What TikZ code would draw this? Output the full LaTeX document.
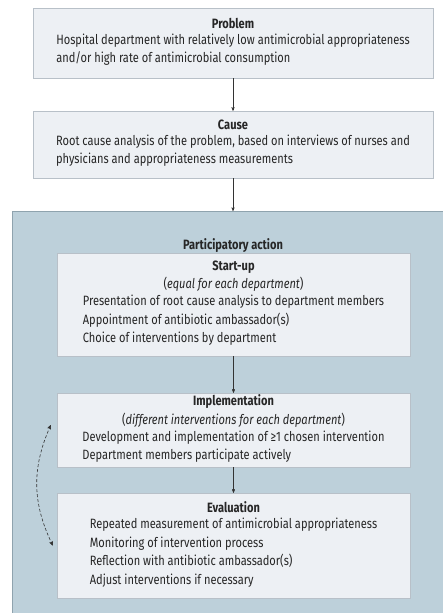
\documentclass[tikz,border=0pt]{standalone}
\usepackage{fontspec}
\setmainfont[FakeStretch=0.82]{Fira Sans}
\usetikzlibrary{arrows,positioning}

\definecolor{actionblue}{HTML}{BDD0DA}
\definecolor{actionedge}{HTML}{8FA3AE}
\definecolor{boxgrey}{HTML}{EDF0F4}
\definecolor{edgegrey}{HTML}{B8C0C8}
\definecolor{arrowgrey}{HTML}{333333}

\begin{document}
\begin{tikzpicture}
    [x=1pt,y=-1pt,
     stage/.style={rectangle,draw=edgegrey,fill=boxgrey,inner sep=0pt,
       align=center,font=\fontsize{13.5}{18.5}\selectfont,text=black!85},
     panel/.style={rectangle,draw=actionedge,fill=actionblue,inner sep=0pt},
     flow/.style={->,>=stealth',thin,draw=arrowgrey},
     loopback/.style={<->,>=stealth',densely dashed,semithick,draw=arrowgrey}]
    \useasboundingbox (0,0) rectangle (443,613);

    % top boxes
    \node (problem) [stage,minimum width=400pt,minimum height=70pt] at (233,43)
      {\textbf{Problem}\\[2pt]
       \begin{tabular}{@{}l@{}}
         Hospital department with relatively low antimicrobial appropriateness\\
         and/or high rate of antimicrobial consumption
       \end{tabular}};
    \node (cause) [stage,minimum width=400pt,minimum height=67pt] at (233,144.5)
      {\textbf{Cause}\\[2pt]
       \begin{tabular}{@{}l@{}}
         Root cause analysis of the problem, based on interviews of nurses and\\
         physicians and appropriateness measurements
       \end{tabular}};

    % participatory action panel
    \node (action) [panel,anchor=north west,minimum width=440pt,minimum height=410pt] at (12,211) {};
    \node (action title) [font=\fontsize{13.5}{18}\selectfont\bfseries,text=black!85] at (233,246)
      {Participatory action};

    \node (startup) [stage,minimum width=353pt,minimum height=103pt] at (233.5,304.5)
      {\textbf{Start-up}\\
       (\textit{equal for each department})\\
       \begin{tabular}{@{}l@{}}
         Presentation of root cause analysis to department members\\
         Appointment of antibiotic ambassador(s)\\
         Choice of interventions by department
       \end{tabular}};
    \node (impl) [stage,minimum width=353pt,minimum height=74pt] at (233.5,430)
      {\textbf{Implementation}\\
       (\textit{different interventions for each department})\\
       \begin{tabular}{@{}l@{}}
         Development and implementation of ≥1 chosen intervention\\
         Department members participate actively
       \end{tabular}};
    \node (eval) [stage,minimum width=353pt,minimum height=105pt] at (233.5,545.5)
      {\textbf{Evaluation}\\[2pt]
       \begin{tabular}{@{}l@{}}
         Repeated measurement of antimicrobial appropriateness\\
         Monitoring of intervention process\\
         Reflection with antibiotic ambassador(s)\\
         Adjust interventions if necessary
       \end{tabular}};

    \draw[flow] (problem) -- (cause);
    \draw[flow] (cause.south) -- (cause.south |- action.north);
    \draw[flow] (startup) -- (impl);
    \draw[flow] (impl) -- (eval);
    \draw[loopback] ([shift={(-6,-5)}]impl.west) to [bend right=25] ([shift={(-4,0)}]eval.west);
\end{tikzpicture}
\end{document}
